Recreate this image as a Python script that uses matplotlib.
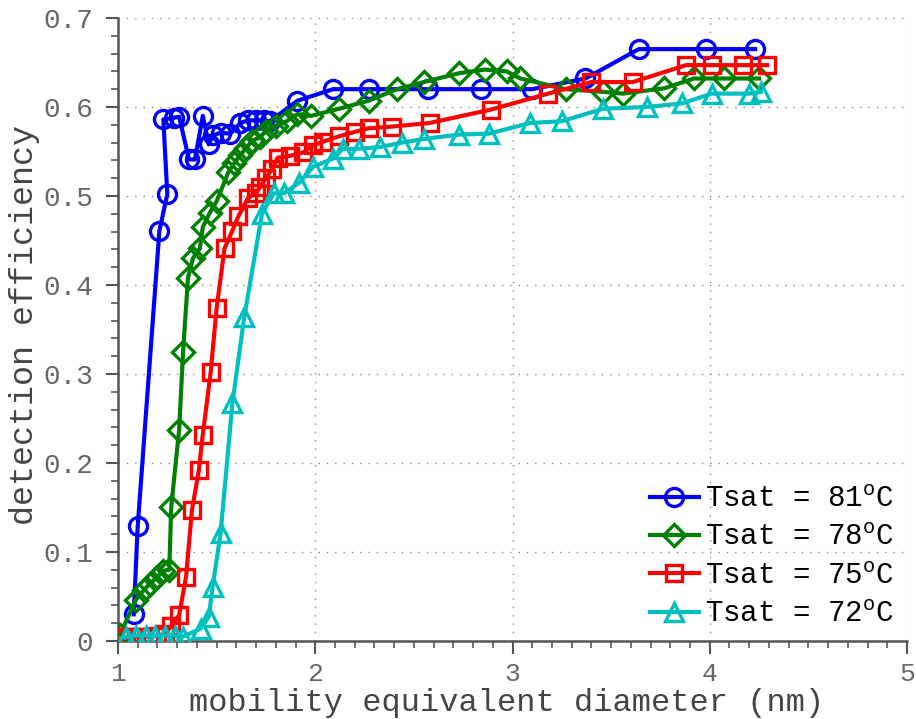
import numpy as np
import matplotlib
matplotlib.use("Agg")
import matplotlib.pyplot as plt
from matplotlib.ticker import MultipleLocator

# data
d81 = [1.08, 1.10, 1.21, 1.25, 1.23, 1.285, 1.31, 1.36, 1.39, 1.43, 1.46, 1.48, 1.52, 1.57,
       1.62, 1.66, 1.70, 1.74, 1.77, 1.91, 2.09, 2.27, 2.57, 2.84, 3.10, 3.37, 3.64, 3.98, 4.23]
e81 = [0.030, 0.129, 0.461, 0.502, 0.586, 0.588, 0.589, 0.541, 0.541, 0.590, 0.558, 0.568, 0.571, 0.570,
       0.582, 0.585, 0.585, 0.585, 0.584, 0.607, 0.620, 0.620, 0.620, 0.620, 0.620, 0.632, 0.665, 0.665, 0.665]

d78 = [1.01, 1.09, 1.13, 1.16, 1.20, 1.23, 1.26, 1.27, 1.31, 1.33, 1.355, 1.38, 1.415, 1.43,
       1.465, 1.50, 1.56, 1.59, 1.62, 1.65, 1.68, 1.72, 1.75, 1.80, 1.855, 1.91, 1.98, 2.12,
       2.27, 2.415, 2.55, 2.73, 2.86, 2.97, 3.04, 3.27, 3.46, 3.56, 3.77, 3.92, 4.07, 4.25]
e78 = [0.007, 0.046, 0.057, 0.064, 0.072, 0.079, 0.080, 0.151, 0.237, 0.325, 0.408, 0.430, 0.441, 0.465,
       0.481, 0.494, 0.527, 0.537, 0.546, 0.554, 0.562, 0.566, 0.573, 0.579, 0.584, 0.592, 0.590, 0.598,
       0.607, 0.620, 0.628, 0.638, 0.642, 0.640, 0.632, 0.620, 0.617, 0.615, 0.621, 0.632, 0.632, 0.632]

d75 = [1.03, 1.06, 1.09, 1.12, 1.16, 1.20, 1.24, 1.27, 1.31, 1.345, 1.375, 1.41, 1.43, 1.47,
       1.50, 1.54, 1.58, 1.61, 1.66, 1.70, 1.72, 1.75, 1.78, 1.81, 1.87, 1.94, 1.99, 2.04,
       2.12, 2.20, 2.27, 2.39, 2.58, 2.89, 3.18, 3.40, 3.61, 3.88, 4.01, 4.17, 4.29]
e75 = [0.004, 0.004, 0.005, 0.005, 0.005, 0.006, 0.008, 0.017, 0.029, 0.072, 0.147, 0.192, 0.232, 0.302,
       0.374, 0.441, 0.461, 0.477, 0.498, 0.503, 0.510, 0.520, 0.530, 0.543, 0.545, 0.549, 0.557, 0.561,
       0.567, 0.572, 0.576, 0.578, 0.582, 0.597, 0.615, 0.628, 0.628, 0.647, 0.647, 0.647, 0.647]

d72 = [1.04, 1.09, 1.14, 1.19, 1.24, 1.29, 1.33, 1.42, 1.46, 1.48, 1.52, 1.58, 1.64, 1.73,
       1.79, 1.84, 1.92, 1.99, 2.09, 2.14, 2.22, 2.33, 2.44, 2.55, 2.73, 2.88, 3.09, 3.25,
       3.46, 3.68, 3.86, 4.01, 4.20, 4.26]
e72 = [0.004, 0.006, 0.006, 0.006, 0.006, 0.006, 0.005, 0.014, 0.027, 0.061, 0.121, 0.267, 0.364, 0.480,
       0.503, 0.503, 0.515, 0.533, 0.542, 0.553, 0.553, 0.555, 0.560, 0.564, 0.569, 0.570, 0.582, 0.584,
       0.598, 0.600, 0.604, 0.615, 0.615, 0.617]

labels = ['Tsat = 81$^{\\mathregular{o}}$C', 'Tsat = 78$^{\\mathregular{o}}$C',
          'Tsat = 75$^{\\mathregular{o}}$C', 'Tsat = 72$^{\\mathregular{o}}$C']
xticks = [1, 2, 3, 4, 5]
yticks = [0, 0.1, 0.2, 0.3, 0.4, 0.5, 0.6, 0.7]
yticklabels = ['0', '0.1', '0.2', '0.3', '0.4', '0.5', '0.6', '0.7']

plt.rcParams['font.family'] = ['Liberation Mono', 'DejaVu Sans']
gray = '#555555'

fig = plt.figure(figsize=(9.16, 7.19), dpi=100)
ax = fig.add_axes([0.1288, 0.1085, 0.8614, 0.8665])

series = [(d81, e81, 'b', 'o', 13), (d78, e78, 'g', 'D', 11),
          (d75, e75, 'r', 's', 11), (d72, e72, 'c', '^', 13)]
for (x, y, c, m, ms), lab in zip(series, labels):
    ax.plot(x, y, color=c, marker=m, markersize=ms, markerfacecolor='none',
            markeredgewidth=2.4, linewidth=3, label=lab, zorder=3)

ax.set_xlim(1, 5)
ax.set_ylim(0, 0.7)
ax.set_xticks(xticks)
ax.set_xticklabels([str(t) for t in xticks])
ax.set_yticks(yticks)
ax.set_yticklabels(yticklabels)
ax.xaxis.set_minor_locator(MultipleLocator(0.1))
ax.yaxis.set_minor_locator(MultipleLocator(0.02))

for s in ['top', 'right']:
    ax.spines[s].set_visible(False)
for s in ['left', 'bottom']:
    ax.spines[s].set_color(gray)
    ax.spines[s].set_linewidth(1.8)

ax.tick_params(which='major', direction='out', length=9, width=1.5, color=gray,
               labelcolor='#666666', labelsize=20, pad=9)
ax.tick_params(axis='x', which='major', labelsize=19, pad=6)
ax.tick_params(which='minor', direction='out', length=5, width=1.2, color=gray)
ax.grid(True, which='major', color='#888888', linestyle=(0, (1, 5)), linewidth=1)

ax.set_xlabel('mobility equivalent diameter (nm)', fontsize=23, color='#444444')
ax.xaxis.set_label_coords(0.493, -0.075)
ax.set_ylabel('detection efficiency', fontsize=24, color='#444444', va='center')
ax.yaxis.set_label_coords(-0.118, 0.507)

ax.legend(loc='lower right', frameon=False, fontsize=21, handlelength=1.7,
          handletextpad=0.2, labelspacing=0.35, borderaxespad=0.05)

fig.savefig('out.png', dpi=100)
